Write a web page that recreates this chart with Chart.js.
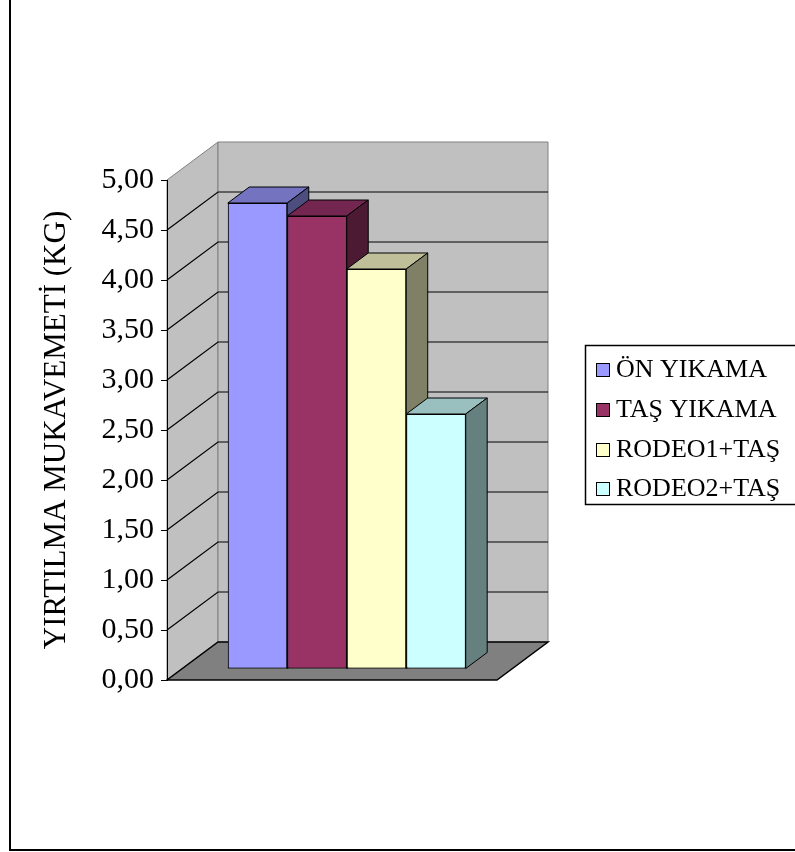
<!DOCTYPE html>
<html>
<head>
<meta charset="utf-8">
<script src="https://cdn.jsdelivr.net/npm/chart.js@4.4.1/dist/chart.umd.min.js"></script>
<style>
  html, body { margin: 0; padding: 0; background: #fff; }
  canvas { display: block; }
</style>
</head>
<body>
<canvas id="myChart" width="795" height="852"></canvas>
<script>
// data
const categories = [''];
const seriesNames = ['ÖN YIKAMA', 'TAŞ YIKAMA', 'RODEO1+TAŞ', 'RODEO2+TAŞ'];
const seriesValues = [4.66, 4.53, 4.00, 2.55];
const yTickValues = [0, 0.5, 1, 1.5, 2, 2.5, 3, 3.5, 4, 4.5, 5];
const axisTitle = 'YIRTILMA MUKAVEMETİ (KG)';

// styles (front, top, side)
const frontColors = ['#9999ff', '#993366', '#ffffcc', '#ccffff'];
const topColors = ['#7373bf', '#732650', '#bfbf99', '#99bfbf'];
const sideColors = ['#4d4d80', '#4d1a33', '#808066', '#668080'];

const FONT = 'Liberation Serif, Times New Roman, serif';
const depth = [51, -38];      // full depth of the box
const barNear = 11 / 38, barFar = 27 / 38;

function poly(ctx, pts, fill, stroke, lw) {
  ctx.beginPath();
  ctx.moveTo(pts[0][0], pts[0][1]);
  for (let i = 1; i < pts.length; i++) ctx.lineTo(pts[i][0], pts[i][1]);
  ctx.closePath();
  if (fill) { ctx.fillStyle = fill; ctx.fill(); }
  if (stroke) { ctx.strokeStyle = stroke; ctx.lineWidth = lw || 1; ctx.stroke(); }
}

const box3d = {
  id: 'box3d',
  beforeDraw(chart) {
    const { ctx, chartArea: a, scales: { y } } = chart;
    const [dx, dy] = depth;
    const y0 = y.getPixelForValue(0), yT = y.getPixelForValue(yTickValues[yTickValues.length - 1]);
    ctx.save();
    // outer frame (left + bottom visible)
    ctx.strokeStyle = '#000';
    ctx.lineWidth = 2;
    ctx.beginPath();
    ctx.moveTo(10, 0);
    ctx.lineTo(10, 850);
    ctx.lineTo(800, 850);
    ctx.stroke();

    // walls
    poly(ctx, [[a.left, y0], [a.left, yT], [a.left + dx, yT + dy], [a.left + dx, y0 + dy]], '#c0c0c0', '#808080');
    poly(ctx, [[a.left + dx, yT + dy], [a.right + dx, yT + dy], [a.right + dx, y0 + dy], [a.left + dx, y0 + dy]], '#c0c0c0', '#808080');
    // gridlines
    ctx.strokeStyle = '#000';
    ctx.lineWidth = 1.2;
    yTickValues.forEach(v => {
      if (v <= 0 || v >= yTickValues[yTickValues.length - 1]) return;
      const py = y.getPixelForValue(v);
      ctx.beginPath();
      ctx.moveTo(a.left, py);
      ctx.lineTo(a.left + dx, py + dy);
      ctx.lineTo(a.right + dx, py + dy);
      ctx.stroke();
    });
    // floor
    poly(ctx, [[a.left, y0], [a.right, y0], [a.right + dx, y0 + dy], [a.left + dx, y0 + dy]], '#808080', '#000', 1.5);
    ctx.restore();
  },
  beforeDatasetsDraw(chart) {
    const ctx = chart.ctx;
    ctx.save();
    ctx.translate(depth[0] * barNear, depth[1] * barNear);
  },
  afterDatasetsDraw(chart) {
    const ctx = chart.ctx;
    const bx = depth[0] * (barFar - barNear), by = depth[1] * (barFar - barNear);
    const bars = [];
    chart.data.datasets.forEach((ds, i) => {
      const el = chart.getDatasetMeta(i).data[0];
      bars.push({ el, i });
    });
    bars.sort((p, q) => p.el.x - q.el.x);
    bars.forEach(({ el, i }) => {
      el.draw(ctx);
      const { x, y, base, width } = el.getProps(['x', 'y', 'base', 'width'], true);
      const L = x - width / 2, R = x + width / 2;
      poly(ctx, [[L, y], [R, y], [R + bx, y + by], [L + bx, y + by]], topColors[i], '#000');
      poly(ctx, [[R, y], [R + bx, y + by], [R + bx, base + by], [R, base]], sideColors[i], '#000');
    });
    ctx.restore();
  },
  afterDraw(chart) {
    const ctx = chart.ctx;
    ctx.save();
    // legend
    ctx.strokeStyle = '#000';
    ctx.lineWidth = 1.5;
    ctx.strokeRect(585.5, 345.5, 220, 159);
    ctx.font = '26px ' + FONT;
    ctx.textBaseline = 'middle';
    ctx.fillStyle = '#000';
    const rows = [369, 409, 449, 488];
    chart.data.datasets.forEach((ds, i) => {
      ctx.fillStyle = ds.backgroundColor;
      ctx.fillRect(596, rows[i] - 6, 13, 13);
      ctx.strokeStyle = '#000';
      ctx.lineWidth = 1;
      ctx.strokeRect(596.5, rows[i] - 5.5, 13, 13);
      ctx.fillStyle = '#000';
      ctx.fillText(ds.label, 616, rows[i] + 1);
    });
    ctx.restore();
  }
};

const datasets = seriesNames.map((name, i) => ({
  label: name,
  data: [seriesValues[i]],
  backgroundColor: frontColors[i],
  borderColor: '#000',
  borderWidth: 1,
  borderSkipped: false,
  clip: false
}));

const config = {
  type: 'bar',
  data: { labels: categories, datasets: datasets },
  options: {
    responsive: false,
    animation: false,
    devicePixelRatio: 1,
    layout: { padding: { left: 10, top: 180, right: 298, bottom: 172 } },
    datasets: { bar: { categoryPercentage: 0.721, barPercentage: 1 } },
    plugins: {
      legend: { display: false },
      tooltip: { enabled: false }
    },
    scales: {
      x: { display: false },
      y: {
        min: 0,
        max: 5,
        afterFit: scale => { scale.width = 157; },
        ticks: {
          stepSize: 0.5,
          color: '#000',
          padding: 7,
          font: { family: FONT, size: 30 },
          callback: v => v.toFixed(2).replace('.', ',')
        },
        grid: { drawOnChartArea: false, drawTicks: true, tickLength: 6, color: '#000' },
        border: { display: true, color: '#000', width: 1 },
        title: {
          display: true,
          text: axisTitle,
          color: '#000',
          font: { family: FONT, size: 31 },
          padding: { top: 28, bottom: 0 }
        }
      }
    }
  },
  plugins: [box3d]
};

const myChart = new Chart(document.getElementById('myChart'), config);
</script>
</body>
</html>
